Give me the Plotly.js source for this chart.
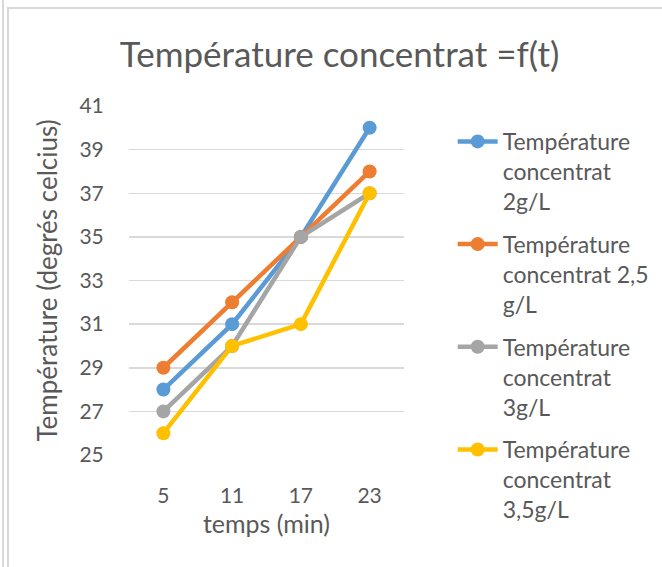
<!DOCTYPE html>
<html>
<head>
<meta charset="utf-8">
<script src="https://cdn.plot.ly/plotly-3.0.1.min.js"></script>
<style>
  html, body { margin: 0; padding: 0; background: #fff; }
  #wrap { position: relative; width: 662px; height: 567px; overflow: hidden; }
  #chart { position: absolute; left: 0; top: 0; width: 662px; height: 567px; }
  .frame { position: absolute; background: #d9d9d9; pointer-events: none; }
</style>
</head>
<body>
<div id="wrap">
  <div id="chart"></div>
  <div class="frame" style="left:2px; top:0; width:2px; height:567px;"></div>
  <div class="frame" style="left:7px; top:7px; width:2px; height:560px;"></div>
  <div class="frame" style="left:7px; top:7px; width:655px; height:2px;"></div>
</div>
<script>
const categories = ['5', '11', '17', '23'];
const seriesNames = [
  'Température<br>concentrat<br>2g/L',
  'Température<br>concentrat 2,5<br>g/L',
  'Température<br>concentrat<br>3g/L',
  'Température<br>concentrat<br>3,5g/L'
];
const temp2 = [28, 31, 35, 40];
const temp25 = [29, 32, 35, 38];
const temp3 = [27, 30, 35, 37];
const temp35 = [26, 30, 31, 37];
const colors = ['#5B9BD5', '#ED7D31', '#A5A5A5', '#FFC000'];
const yTicks = [25, 27, 29, 31, 33, 35, 37, 39, 41];

const allSeries = [temp2, temp25, temp3, temp35];
const FONT = 'Lato, "Open Sans", sans-serif';
const TXT = '#595959';

const traces = allSeries.map((vals, i) => ({
  type: 'scatter',
  mode: 'lines+markers',
  x: categories,
  y: vals,
  name: seriesNames[i],
  legendgroup: 'g' + i,
  line: { color: colors[i], width: 4.5 },
  marker: { color: colors[i], size: 14 }
}));

const layout = {
  width: 662,
  height: 567,
  margin: { l: 129, r: 258, t: 106, b: 112, autoexpand: false },
  paper_bgcolor: '#ffffff',
  plot_bgcolor: '#ffffff',
  font: { family: FONT, color: TXT, size: 21 },
  title: {
    text: 'Température concentrat =f(t)',
    font: { family: FONT, size: 35, color: TXT },
    x: 0.513, xanchor: 'center',
    y: 0.903, yanchor: 'middle'
  },
  xaxis: {
    type: 'category',
    range: [-0.5, 3.5],
    showgrid: false,
    showline: false,
    zeroline: false,
    ticks: 'outside',
    ticklen: 22,
    tickcolor: 'rgba(0,0,0,0)',
    tickfont: { family: FONT, size: 21, color: TXT },
    title: { text: 'temps (min)', font: { family: FONT, size: 25, color: TXT }, standoff: 9 }
  },
  yaxis: {
    range: [25, 41],
    tickvals: yTicks,
    ticktext: yTicks.map(String),
    showgrid: true,
    gridcolor: '#D9D9D9',
    gridwidth: 1.5,
    zeroline: false,
    showline: false,
    ticks: 'outside',
    ticklen: 20,
    tickcolor: 'rgba(0,0,0,0)',
    tickfont: { family: FONT, size: 21, color: TXT },
    title: { text: 'Température (degrés celcius)', font: { family: FONT, size: 26, color: TXT }, standoff: 14 }
  },
  showlegend: true,
  legend: {
    x: 1.177, xanchor: 'left',
    y: 0.96, yanchor: 'top',
    traceorder: 'grouped',
    tracegroupgap: 10,
    valign: 'top',
    maxheight: 520,
    font: { family: FONT, size: 23, color: TXT },
    itemwidth: 40,
    bgcolor: 'rgba(0,0,0,0)'
  }
};

Plotly.newPlot('chart', traces, layout, { displayModeBar: false, staticPlot: true });
</script>
</body>
</html>
